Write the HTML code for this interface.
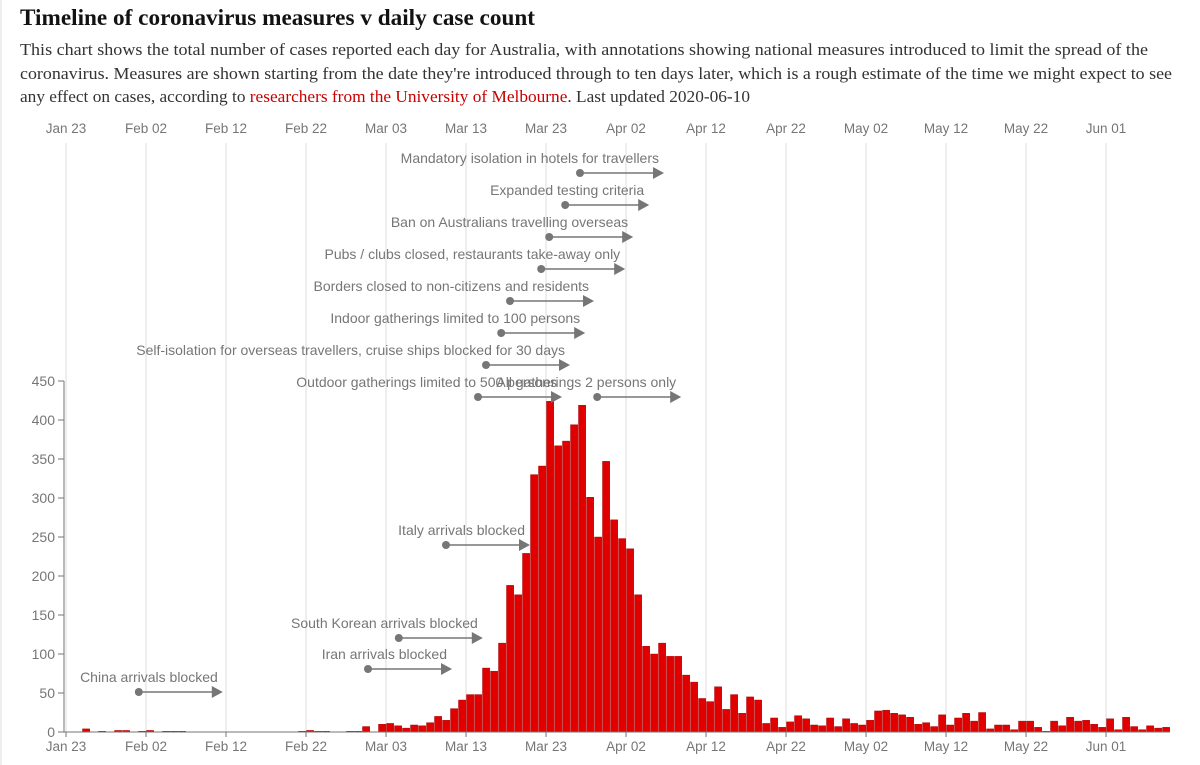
<!DOCTYPE html>
<html><head><meta charset="utf-8"><style>
html,body{margin:0;padding:0;background:#fff;width:1200px;height:765px;overflow:hidden}
svg{display:block}
</style></head><body>
<svg id="chart" width="1200" height="765" xmlns="http://www.w3.org/2000/svg">
<line x1="1" y1="0" x2="1" y2="765" stroke="#dcdcdc"/>
<text x="20" y="25" font-family="Liberation Serif, serif" font-weight="bold" font-size="23" fill="#121212" textLength="515" lengthAdjust="spacingAndGlyphs">Timeline of coronavirus measures v daily case count</text>
<g font-family="Liberation Serif, serif" font-size="16.5" fill="#333">
<text x="20" y="55" textLength="1128" lengthAdjust="spacingAndGlyphs">This chart shows the total number of cases reported each day for Australia, with annotations showing national measures introduced to limit the spread of the</text>
<text x="20" y="79" textLength="1152" lengthAdjust="spacingAndGlyphs">coronavirus. Measures are shown starting from the date they're introduced through to ten days later, which is a rough estimate of the time we might expect to see</text>
<text x="20" y="102" textLength="730" lengthAdjust="spacingAndGlyphs">any effect on cases, according to <tspan fill="#c70000">researchers from the University of Melbourne</tspan>. Last updated 2020-06-10</text>
</g>
<g id="grid"></g>
<g id="bars"></g>
<g id="axes"></g>
<g id="annots"></g>
</svg>
<script>
const tickLabels = ["Jan 23","Feb 02","Feb 12","Feb 22","Mar 03","Mar 13","Mar 23","Apr 02","Apr 12","Apr 22","May 02","May 12","May 22","Jun 01"];
const yTicks = [0,50,100,150,200,250,300,350,400,450];
const earlyCases = [0,0,4,0,1,0,2,2,0,1,2,0,1,1,1,0,0,0,0,0,0,0,0,0,0,0,0,0,0,1,2,1,1,0,0,1,1,7,0];
const laterCases = [10,11,8,5,9,8,12,20,15,30,41,48,48,82,78,114,188,176,229,330,341,424,367,373,394,419,301,250,347,272,248,235,176,110,100,114,97,97,73,64,43,39,58,29,48,24,45,41,11,18,6,13,21,17,9,8,18,7,17,11,9,15,27,28,24,22,19,10,12,7,22,9,18,24,14,25,4,9,9,3,14,14,6,1,14,8,19,14,15,10,6,17,3,19,7,3,8,5,6];
const cases = earlyCases.concat(laterCases);
const measureLabels = ["Mandatory isolation in hotels for travellers","Expanded testing criteria","Ban on Australians travelling overseas","Pubs / clubs closed, restaurants take-away only","Borders closed to non-citizens and residents","Indoor gatherings limited to 100 persons","Self-isolation for overseas travellers, cruise ships blocked for 30 days","Outdoor gatherings limited to 500 persons","All gatherings 2 persons only","Italy arrivals blocked","South Korean arrivals blocked","Iran arrivals blocked","China arrivals blocked"];
const measureStartDay = [64.25,62.4,60.4,59.4,55.5,54.4,52.5,51.5,66.4,47.5,41.6,37.75,9.1];
const measureRow = [173,205,237,269,301,333,365,397,397,545,638,669,692];

const NS="http://www.w3.org/2000/svg";
const x = d => 66 + 8*d;
const y = v => 732 - v*0.78;
function mk(tag, attrs, parent){const e=document.createElementNS(NS,tag);for(const k in attrs)e.setAttribute(k,attrs[k]);parent.appendChild(e);return e;}
const grid=document.getElementById('grid'), bars=document.getElementById('bars'), axes=document.getElementById('axes'), an=document.getElementById('annots');

tickLabels.forEach((t,i)=>{
  const d=i*10;
  const gl=mk('line',{x1:x(d),x2:x(d),y1:143,y2:732,stroke:'#dcdcdc','stroke-width':1},grid);
  
  
  const tt=mk('text',{x:x(d),y:133,'text-anchor':'middle','font-family':'Liberation Sans, sans-serif','font-size':13.5,fill:'#767676'},axes);
  tt.textContent=t;
  
  
  const tb=mk('text',{x:x(d),y:751,'text-anchor':'middle','font-family':'Liberation Sans, sans-serif','font-size':13.5,fill:'#767676'},axes);
  tb.textContent=t;
  
  
  const tk=mk('line',{x1:x(d),x2:x(d),y1:732,y2:737,stroke:'#767676'},axes);
  
  
});

cases.forEach((v,i)=>{
  if(v<=0) return;
  const r=mk('rect',{x:x(i)+0.5,y:y(v),width:7.2,height:732-y(v),fill:'#e00000',stroke:'#9a0000','stroke-width':0.4},bars);
  
  
});

const ax=mk('line',{x1:64,x2:1170,y1:732,y2:732,stroke:'#767676'},axes);


const ay=mk('line',{x1:64,x2:64,y1:381,y2:732,stroke:'#767676'},axes);


yTicks.forEach(v=>{
  const tk=mk('line',{x1:58,x2:64,y1:y(v),y2:y(v),stroke:'#767676'},axes);
  
  
  const t=mk('text',{x:55,y:y(v)+5,'text-anchor':'end','font-family':'Liberation Sans, sans-serif','font-size':14,fill:'#767676'},axes);
  t.textContent=v;
  
  
});

measureLabels.forEach((lab,i)=>{
  const x0=x(measureStartDay[i]), x1=x0+84, yy=measureRow[i];
  const g=mk('g',{},an);
  
  
  mk('line',{x1:x0,x2:x1-8,y1:yy,y2:yy,stroke:'#767676','stroke-width':1.5},g);
  mk('circle',{cx:x0,cy:yy,r:4,fill:'#767676'},g);
  mk('polygon',{points:`${x1-11},${yy-6} ${x1},${yy} ${x1-11},${yy+6}`,fill:'#767676'},g);
  const t=mk('text',{x:x1-5,y:yy-10,'text-anchor':'end','font-family':'Liberation Sans, sans-serif','font-size':14,fill:'#767676'},g);
  t.textContent=lab;
  
  
});
</script>
</body></html>
